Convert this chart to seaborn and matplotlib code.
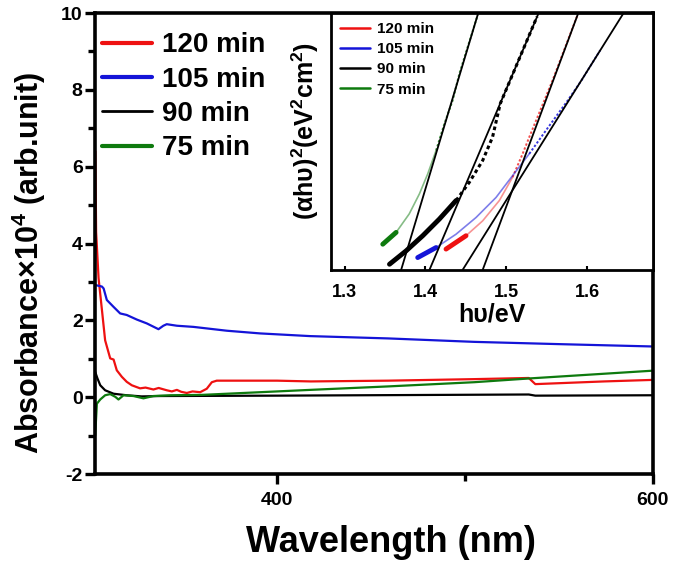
import numpy as np
import pandas as pd
import matplotlib.pyplot as plt
import seaborn as sns
from matplotlib.lines import Line2D
from matplotlib.ticker import MultipleLocator

# ---- main spectra: wavelength (nm) vs absorbance x 1e4 ----
labels = ["120 min", "105 min", "90 min", "75 min"]
colors = ["#ee1111", "#1414d8", "#000000", "#0e7a0e"]

wl_120 = [303.3, 303.7, 305.0, 306.8, 308.5, 311.2, 313.0, 314.7, 317.4, 320.0, 322.7,
          327.1, 330.0, 334.2, 337.0, 341.3, 344.0, 346.7, 349.0, 352.0, 355.0, 359.1,
          362.6, 365.3, 367.9, 400, 418, 459, 505, 534, 537.5, 574, 600]
abs_120 = [6.4, 4.3, 3.1, 2.27, 1.48, 1.01, 0.98, 0.70, 0.53, 0.40, 0.31,
           0.23, 0.25, 0.20, 0.24, 0.18, 0.15, 0.19, 0.14, 0.11, 0.15, 0.13,
           0.22, 0.39, 0.43, 0.43, 0.41, 0.43, 0.47, 0.50, 0.34, 0.41, 0.45]

wl_105 = [303.2, 306.8, 307.7, 309.4, 313.0, 316.5, 320.0, 325.4, 330.7, 336.9, 339.5,
          341.3, 346.7, 355.5, 373.3, 391.0, 417.6, 459, 505, 551, 600]
abs_105 = [2.92, 2.88, 2.83, 2.53, 2.35, 2.18, 2.14, 2.02, 1.92, 1.77, 1.86,
           1.90, 1.86, 1.83, 1.73, 1.66, 1.59, 1.53, 1.44, 1.38, 1.32]

wl_90 = [303.2, 304.4, 305.9, 308.5, 313.0, 320.0, 328.0, 337.8, 400, 534, 537.5, 600]
abs_90 = [0.66, 0.49, 0.31, 0.18, 0.09, 0.05, 0.02, 0.03, 0.04, 0.07, 0.04, 0.05]

wl_75 = [303.2, 304.1, 305.9, 308.5, 311.2, 313.9, 315.6, 318.3, 323.6, 328.9, 334.2,
         343.1, 360, 400, 417.6, 459, 505, 535, 600]
abs_75 = [-1.0, -0.17, -0.06, 0.05, 0.08, 0.01, -0.06, 0.05, 0.03, -0.03, 0.03,
          0.05, 0.06, 0.15, 0.19, 0.28, 0.39, 0.49, 0.69]

# ---- inset: Tauc plot, (ahv)^2 (arb.) vs photon energy (eV) ----
ev_120 = [1.4255, 1.4502, 1.4708, 1.4914, 1.5078, 1.5202, 1.5284, 1.5572, 1.588]
ah_120 = [0.081, 0.133, 0.191, 0.27, 0.361, 0.452, 0.517, 0.738, 0.992]
ev_105 = [1.3905, 1.4132, 1.4379, 1.4626, 1.4873, 1.5078, 1.5284, 1.549, 1.576, 1.593, 1.616]
ah_105 = [0.048, 0.087, 0.139, 0.204, 0.282, 0.367, 0.452, 0.543, 0.66, 0.738, 0.855]
ev_90 = [1.3556, 1.3761, 1.3967, 1.4173, 1.4379, 1.4543, 1.4708, 1.483, 1.4925, 1.5117, 1.538]
ah_90 = [0.022, 0.074, 0.133, 0.198, 0.27, 0.341, 0.426, 0.517, 0.647, 0.790, 0.986]
ev_75 = [1.3473, 1.3638, 1.380, 1.3926, 1.4029, 1.4132, 1.4235, 1.4337, 1.442, 1.4646]
ah_75 = [0.100, 0.146, 0.218, 0.296, 0.374, 0.465, 0.569, 0.66, 0.764, 0.992]
thick_end = [2, 2, 5, 2]      # points drawn as thick solid
thin_end = [5, 7, 5, 6]       # then thin solid, the rest dotted
thin_alpha = [0.45, 0.55, 1.0, 0.5]

# linear fits: energy where fit crosses the bottom and the top of the inset
fit_bottom = [1.4708, 1.446, 1.405, 1.370]
fit_top = [1.589, 1.645, 1.540, 1.4653]

sns.set_style("ticks")
plt.rcParams["font.family"] = ["Liberation Sans", "DejaVu Sans"]
plt.rcParams["font.weight"] = "bold"
plt.rcParams["mathtext.fontset"] = "custom"
plt.rcParams["mathtext.rm"] = "Liberation Sans:bold"
plt.rcParams["mathtext.bf"] = "Liberation Sans:bold"
plt.rcParams["mathtext.default"] = "bf"
plt.rcParams["axes.unicode_minus"] = False
for key in ["text.color", "axes.labelcolor", "xtick.color", "ytick.color", "axes.edgecolor"]:
    plt.rcParams[key] = "black"

main = pd.concat([
    pd.DataFrame({"wl": w, "A": a, "series": s})
    for w, a, s in zip([wl_120, wl_105, wl_90, wl_75],
                       [abs_120, abs_105, abs_90, abs_75], labels)
])
palette = dict(zip(labels, colors))

fig = plt.figure(figsize=(6.75, 5.67), dpi=100)
ax = fig.add_axes([0.141, 0.164, 0.826, 0.813])
sns.lineplot(data=main, x="wl", y="A", hue="series", hue_order=labels,
             palette=palette, estimator=None, sort=False, lw=1.6, ax=ax, legend=False)

ax.set_xlim(303.2, 600)
ax.set_ylim(-2, 10)
ax.xaxis.set_major_locator(MultipleLocator(200))
ax.xaxis.set_minor_locator(MultipleLocator(100))
ax.yaxis.set_major_locator(MultipleLocator(2))
ax.yaxis.set_minor_locator(MultipleLocator(1))
ax.tick_params(which="both", direction="out", width=2.4, labelsize=14)
ax.tick_params(which="major", length=7)
ax.tick_params(which="minor", length=5)
ax.tick_params(axis="x", pad=6)
ax.tick_params(axis="y", pad=2)
for sp in ax.spines.values():
    sp.set_visible(True)
    sp.set_linewidth(2.6)

ax.set_xlabel("Wavelength (nm)", fontsize=26, fontweight="bold")
ax.set_ylabel("Absorbance×10$^4$ (arb.unit)", fontsize=22, fontweight="bold")
ax.xaxis.set_label_coords(0.53, -0.11)
ax.yaxis.set_label_coords(-0.084, 0.458)

handles = [Line2D([], [], color=c, lw=3 if c != "#000000" else 2) for c in colors]
leg = ax.legend(handles, labels, loc="upper left", bbox_to_anchor=(-0.022, 1.0),
                frameon=False, fontsize=20, handlelength=1.8, handletextpad=0.35,
                labelspacing=0.3, borderaxespad=0.4, borderpad=0.3)
for t in leg.get_texts():
    t.set_fontweight("bold")

# ---- inset ----
ins = fig.add_axes([0.490, 0.524, 0.477, 0.453])
inset_ev = [ev_120, ev_105, ev_90, ev_75]
inset_ah = [ah_120, ah_105, ah_90, ah_75]
for i, (ev, ah, c) in enumerate(zip(inset_ev, inset_ah, colors)):
    a, b = thick_end[i], thin_end[i]
    sns.lineplot(x=ev[:a], y=ah[:a], color=c, lw=3.5, sort=False, estimator=None, ax=ins)
    sns.lineplot(x=ev[a - 1:b], y=ah[a - 1:b], color=c, lw=2.5 if c == "#000000" else 1.2,
                 alpha=thin_alpha[i], sort=False, estimator=None, ax=ins)
    sns.lineplot(x=ev[b - 1:], y=ah[b - 1:], color=c, lw=2.2 if c == "#000000" else 1.4,
                 alpha=min(1.0, thin_alpha[i] + 0.3), linestyle=(0, (1.2, 1.0)),
                 sort=False, estimator=None, ax=ins)
for x0, x1 in zip(fit_bottom, fit_top):
    ins.plot([x0, x1], [0, 1], color="black", lw=1.3)

ins.set_xlim(1.283, 1.681)
ins.set_ylim(0, 1)
ins.xaxis.set_major_locator(MultipleLocator(0.1))
ins.set_yticks([])
ins.tick_params(axis="x", direction="in", length=3, width=1.5, labelsize=13, pad=10)
for sp in ins.spines.values():
    sp.set_visible(True)
    sp.set_linewidth(2.0)
ins.set_xlabel("hυ/eV", fontsize=18, fontweight="bold", labelpad=1)
ins.set_ylabel("(αhυ)$^2$(eV$^2$cm$^2$)", fontsize=18, fontweight="bold", labelpad=5)
ins.yaxis.set_label_coords(-0.03, 0.54)

ihandles = [Line2D([], [], color=c, lw=1.8) for c in colors]
ileg = ins.legend(ihandles, labels, loc="upper left", frameon=False, fontsize=11,
                  handlelength=2.0, handletextpad=0.45, labelspacing=0.4,
                  borderaxespad=0.3, borderpad=0.3)
for t in ileg.get_texts():
    t.set_fontweight("bold")

fig.savefig("out.png", dpi=100)
